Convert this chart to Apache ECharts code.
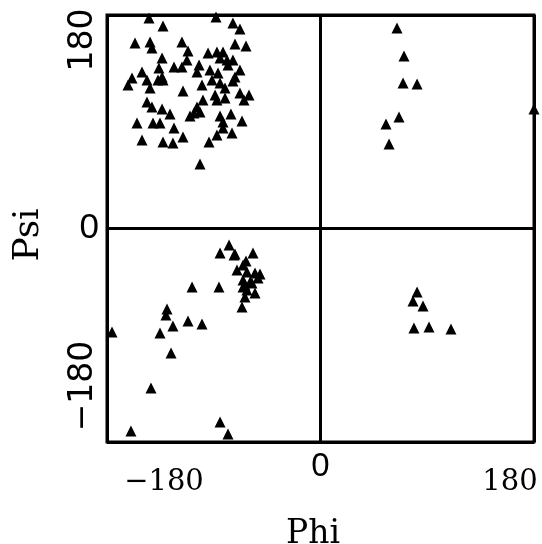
<!DOCTYPE html>
<html>
<head>
<meta charset="utf-8">
<script src="https://cdn.jsdelivr.net/npm/echarts@6/dist/echarts.min.js"></script>
<style>html,body{margin:0;padding:0;background:#fff}#c{width:542px;height:544px}</style>
</head>
<body>
<div id="c"></div>
<script>
// Ramachandran plot values (degrees)
const phi = [
  -144.6,-132.8,-88.1,-73.8,-67.9,-156.4,-143.7,-142.1,-116.8,-111.7,
  -112.6,-133.6,-136.2,-123.5,-116.8,-72.1,-62.8,-94.8,-87.3,-82.2,
  -84.7,-78.8,-73.8,-78.0,-102.4,-104.1,-93.2,-86.4,-67.9,-72.1,
  -73.8,-150.5,-158.9,-162.3,-146.3,-143.7,-137.0,-132.8,-133.6,-115.9,
  -99.9,-91.5,-84.7,-80.5,-88.9,-87.3,-80.5,-67.9,-60.3,-64.5,
  -146.3,-142.1,-133.6,-126.9,-154.7,-141.2,-135.3,-123.5,-104.1,-101.6,
  -110.0,-106.7,-99.1,-84.7,-82.2,-75.5,-66.2,-82.2,-74.6,-87.3,
  -94.0,-150.5,-132.8,-124.4,-115.9,-101.6,
  64.5,70.4,69.6,81.4,66.2,55.2,57.8,180,
  -77.1,-84.7,-72.1,-56.9,-62.8,-65.3,-70.4,-62.0,-55.2,-51.0,
  -52.7,-65.3,-63.7,-57.8,-62.0,-55.2,-63.7,-66.2,-108.3,-85.6,
  -129.4,-130.3,-124.4,-111.7,-99.9,-135.3,-175.8,-126.0,-142.9,-159.8,
  -84.7,-78.0,-59.4,-65.3,-72.9,
  81.4,78.0,86.4,78.8,91.5,110.0
];
const psi = [
  177.5,170.7,178.3,173.3,168.2,156.4,157.2,152.2,157.2,149.7,
  142.1,143.7,135.3,136.2,136.2,155.6,153.9,148.0,148.8,148.8,
  143.7,142.1,142.1,137.8,137.8,131.9,133.6,131.1,133.6,127.7,
  124.4,131.9,126.9,121.0,125.2,118.5,125.2,125.2,127.7,115.9,
  121.0,125.2,122.7,118.5,112.6,108.3,110.0,114.2,112.6,108.3,
  106.7,102.4,100.8,96.5,88.9,88.9,88.9,84.7,102.4,98.2,
  94.8,97.4,108.3,94.8,89.8,96.5,90.6,84.7,80.5,78.8,
  72.9,74.6,72.9,72.1,77.1,54.4,
  169.0,145.4,122.7,121.8,94.0,88.1,71.2,100.8,
  -13.9,-20.7,-21.5,-20.7,-27.4,-30.8,-35.0,-36.7,-37.5,-38.4,
  -41.7,-43.4,-47.6,-45.9,-51.9,-54.4,-57.8,-66.2,-49.3,-49.3,
  -67.9,-72.9,-82.2,-78.0,-80.5,-88.1,-87.3,-105.0,-134.5,-170.7,
  -163.1,-173.3,-45.1,-49.3,-22.3,
  -53.5,-61.1,-65.3,-83.9,-83.0,-84.7
];
const axisMin = -180, axisMax = 180, axisStep = 180;
const xTickLabels = {'-180': '−180', '0': '0', '180': '180'};
const yTickLabels = {'-180': '−180', '0': '0', '180': '180'};
const xName = 'Phi', yName = 'Psi';

const points = phi.map((p, i) => [p, psi[i]]);

const chart = echarts.init(document.getElementById('c'), null, {renderer: 'canvas'});
chart.setOption({
  animation: false,
  backgroundColor: '#fff',
  grid: {left: 107, top: 15, width: 427, height: 427, outerBoundsMode: 'none', containLabel: false,
         show: true, borderColor: '#000', borderWidth: 3, backgroundColor: 'transparent'},
  xAxis: {
    type: 'value', min: axisMin, max: axisMax, interval: axisStep,
    axisLine: {show: false}, axisTick: {show: false},
    splitLine: {show: true, lineStyle: {color: '#000', width: 3}},
    axisLabel: {
      margin: 8,
      formatter: v => v === 0 ? '{z|' + xTickLabels['0'] + '}' : (v < 0 ? '{l|' + xTickLabels[String(v)] + '}' : '{r|' + xTickLabels[String(v)] + '}'),
      rich: {
        z: {fontFamily: 'Liberation Sans', fontSize: 33, color: '#000'},
        l: {fontFamily: 'DejaVu Serif', fontSize: 29, color: '#000', padding: [18, 0, 0, 114]},
        r: {fontFamily: 'DejaVu Serif', fontSize: 29, color: '#000', padding: [18, 48, 0, 0]}
      }
    },
    name: xName, nameLocation: 'middle', nameGap: 76,
    nameTextStyle: {fontFamily: 'DejaVu Serif', fontSize: 33, color: '#000', padding: [0, 15, 0, 0]}
  },
  yAxis: [{
    type: 'value', min: axisMin, max: axisMax, interval: axisStep,
    axisLine: {show: false}, axisTick: {show: false},
    splitLine: {show: true, lineStyle: {color: '#000', width: 3}},
    axisLabel: {
      rotate: 90, margin: 7,
      formatter: v => v === 0 ? '' : (v < 0 ? '{b|' + yTickLabels[String(v)] + '}' : '{t|' + yTickLabels[String(v)] + '}'),
      rich: {
        t: {fontFamily: 'DejaVu Sans', fontSize: 33, color: '#000', padding: [0, 50, 0, 0]},
        b: {fontFamily: 'DejaVu Sans', fontSize: 33, color: '#000', padding: [0, 0, 0, 112]}
      }
    },
    name: yName, nameLocation: 'middle', nameGap: 60, nameRotate: 90,
    nameTextStyle: {fontFamily: 'DejaVu Serif', fontSize: 36, color: '#000', padding: [0, 13, 0, 0]}
  }, {
    type: 'value', min: axisMin, max: axisMax, interval: axisStep, position: 'left',
    axisLine: {show: false}, axisTick: {show: false}, splitLine: {show: false},
    axisLabel: {
      margin: 8,
      formatter: v => v === 0 ? yTickLabels['0'] : '',
      fontFamily: 'Liberation Sans', fontSize: 35, color: '#000'
    }
  }],
  series: [{
    type: 'scatter', data: points, symbol: 'triangle', symbolSize: 11,
    itemStyle: {color: '#000', opacity: 1}
  }]
});
</script>
</body>
</html>
